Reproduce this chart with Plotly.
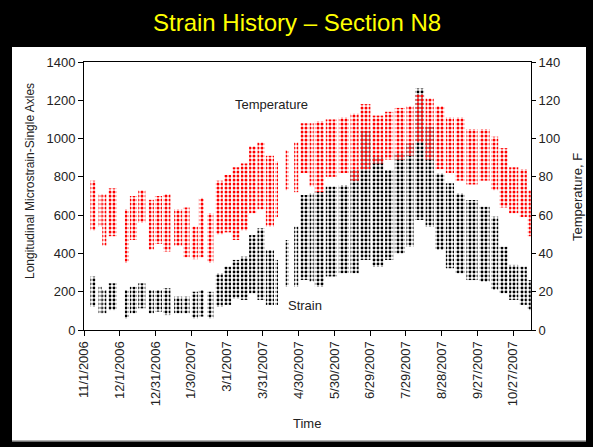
import plotly.graph_objects as go
import pandas as pd

# ---- data (weekly-ish clusters of hourly readings) ----
win_start = ["2006-11-06", "2006-11-13", "2006-11-16", "2006-11-21", "2006-12-05", "2006-12-09",
             "2006-12-16", "2006-12-25", "2006-12-30", "2007-01-06", "2007-01-15", "2007-01-23",
             "2007-01-30", "2007-02-05", "2007-02-12", "2007-02-19", "2007-02-26", "2007-03-05",
             "2007-03-12", "2007-03-19", "2007-03-26", "2007-04-02", "2007-04-10", "2007-04-19",
             "2007-04-26", "2007-05-01", "2007-05-09", "2007-05-13", "2007-05-22", "2007-06-02",
             "2007-06-12", "2007-06-20", "2007-06-30", "2007-07-11", "2007-07-19", "2007-07-29",
             "2007-08-05", "2007-08-14", "2007-08-22", "2007-08-31", "2007-09-08", "2007-09-17",
             "2007-09-28", "2007-10-08", "2007-10-15", "2007-10-23", "2007-11-01", "2007-11-08"]
win_end = ["2006-11-11", "2006-11-16", "2006-11-20", "2006-11-29", "2006-12-09", "2006-12-16",
           "2006-12-23", "2006-12-30", "2007-01-06", "2007-01-13", "2007-01-23", "2007-01-29",
           "2007-02-05", "2007-02-10", "2007-02-18", "2007-02-26", "2007-03-05", "2007-03-12",
           "2007-03-19", "2007-03-26", "2007-04-02", "2007-04-10", "2007-04-13", "2007-04-22",
           "2007-04-30", "2007-05-09", "2007-05-13", "2007-05-22", "2007-06-02", "2007-06-12",
           "2007-06-20", "2007-06-30", "2007-07-11", "2007-07-19", "2007-07-29", "2007-08-05",
           "2007-08-14", "2007-08-22", "2007-08-31", "2007-09-08", "2007-09-17", "2007-09-28",
           "2007-10-08", "2007-10-15", "2007-10-23", "2007-11-01", "2007-11-08", "2007-11-11"]

temp_low = [52, 54, 44, 49, 35, 47, 56, 42, 45, 41, 44, 38, 37, 38, 35, 50, 51, 47, 52, 61,
            63, 54, 59, 73, 72, 82, 75, 72, 80, 82, 78, 84, 87, 89, 89, 91, 98, 89, 84, 82,
            78, 76, 78, 73, 64, 61, 59, 49]
temp_high = [78, 71, 71, 74, 63, 70, 73, 68, 70, 71, 63, 64, 54, 69, 61, 78, 81, 85, 87, 96,
             98, 91, 88, 94, 98, 108, 108, 109, 110, 111, 113, 118, 112, 114, 116, 117, 123, 121, 117, 111,
             111, 105, 105, 101, 95, 85, 84, 73]

strain_low = [122, 87, 87, 104, 61, 87, 113, 87, 96, 78, 87, 87, 61, 70, 61, 122, 131, 165, 157, 192,
              157, 131, 131, 226, 226, 261, 252, 226, 279, 296, 296, 366, 331, 366, 400, 435, 575, 540, 418, 322,
              296, 261, 252, 209, 192, 157, 131, 104]
strain_high = [279, 226, 209, 244, 209, 226, 244, 209, 209, 218, 174, 174, 200, 209, 200, 296, 331, 366, 383, 496,
               531, 418, 366, 470, 540, 705, 714, 722, 749, 757, 836, 1040, 905, 836, 923, 975, 1262, 1062, 818, 766,
               714, 679, 644, 592, 435, 340, 331, 261]

tick_dates = ["2006-11-01", "2006-12-01", "2006-12-31", "2007-01-30", "2007-03-01", "2007-03-31",
              "2007-04-30", "2007-05-30", "2007-06-29", "2007-07-29", "2007-08-28", "2007-09-27",
              "2007-10-27"]
tick_labels = ["11/1/2006", "12/1/2006", "12/31/2006", "1/30/2007", "3/1/2007", "3/31/2007",
               "4/30/2007", "5/30/2007", "6/29/2007", "7/29/2007", "8/28/2007", "9/27/2007",
               "10/27/2007"]

# ---- geometry ----
W, H = 593, 447
L, R, T, B = 84, 62, 62, 117
PW, PH = W - L - R, H - T - B
def px(x): return (x - L) / PW
def py(y): return (H - B - y) / PH

FONT = "Liberation Sans, Arial, sans-serif"

s = pd.to_datetime(win_start)
e = pd.to_datetime(win_end)
mid = s + (e - s) / 2
widths = (e - s).total_seconds() * 1000 * 0.85

def pattern(color, size, solidity):
    return dict(color="rgba(0,0,0,0)", opacity=1, line=dict(width=0),
                pattern=dict(shape=".", fgcolor=color, bgcolor="rgba(0,0,0,0)", fgopacity=1,
                             size=size, solidity=solidity, fillmode="overlay"))

fig = go.Figure()
fig.add_trace(go.Bar(
    x=mid, base=strain_low, y=[h - l for h, l in zip(strain_high, strain_low)],
    width=list(widths), yaxis="y", name="Strain", marker=pattern("#000000", 4, 0.42), opacity=1,
    showlegend=False, hoverinfo="skip"))
fig.add_trace(go.Bar(
    x=mid, base=temp_low, y=[h - l for h, l in zip(temp_high, temp_low)],
    width=list(widths), yaxis="y2", name="Temperature", marker=pattern("#ff0000", 4, 0.45), opacity=1,
    showlegend=False, hoverinfo="skip"))

axis_common = dict(showgrid=False, zeroline=False, showline=True, linecolor="black", linewidth=1,
                   tickcolor="black", tickfont=dict(family=FONT, size=13, color="#222"))

fig.update_layout(
    width=W, height=H,
    margin=dict(l=L, r=R, t=T, b=B),
    paper_bgcolor="black", plot_bgcolor="white",
    barmode="overlay",
    xaxis=dict(type="date", range=["2006-11-01", "2007-11-11"],
               tickvals=tick_dates, ticktext=tick_labels, tickangle=-90,
               ticks="outside", ticklen=5, mirror=True, **axis_common),
    yaxis=dict(range=[0, 1400], dtick=200, ticks="outside", ticklen=5, **axis_common),
    yaxis2=dict(range=[0, 140], dtick=20, overlaying="y", side="right",
                ticks="outside", ticklen=4, **axis_common),
    yaxis3=dict(range=[0, 140], dtick=20, overlaying="y", side="right",
                ticks="inside", ticklen=4, showticklabels=False, showgrid=False,
                zeroline=False, showline=False, tickcolor="black"),
    shapes=[
        dict(type="rect", xref="paper", yref="paper", x0=px(12), x1=px(586), y0=py(441), y1=py(47),
             fillcolor="white", line=dict(width=0), layer="below"),
        dict(type="line", xref="paper", yref="paper", x0=px(12), x1=px(586), y0=py(441), y1=py(441),
             line=dict(color="#999999", width=1.5), layer="below"),
    ],
    annotations=[
        dict(text="Strain History – Section N8", xref="paper", yref="paper", x=px(297), y=py(22),
             showarrow=False, xanchor="center", yanchor="middle",
             font=dict(family=FONT, size=24, color="#ffff00")),
        dict(text="Temperature", xref="paper", yref="paper", x=px(271.5), y=py(104),
             showarrow=False, xanchor="center", yanchor="middle",
             font=dict(family=FONT, size=13, color="#222")),
        dict(text="Strain", xref="paper", yref="paper", x=px(305), y=py(305),
             showarrow=False, xanchor="center", yanchor="middle",
             font=dict(family=FONT, size=13, color="#222")),
        dict(text="Longitudinal Microstrain-Single Axles", xref="paper", yref="paper",
             x=px(30), y=py(181), textangle=-90, showarrow=False,
             xanchor="center", yanchor="middle", font=dict(family=FONT, size=12, color="#222")),
        dict(text="Temperature, F", xref="paper", yref="paper",
             x=px(577), y=py(197), textangle=-90, showarrow=False,
             xanchor="center", yanchor="middle", font=dict(family=FONT, size=13, color="#222")),
        dict(text="Time", xref="paper", yref="paper", x=px(307), y=py(423),
             showarrow=False, xanchor="center", yanchor="middle",
             font=dict(family=FONT, size=13, color="#222")),
    ],
)

fig.write_html("out.html", config={"displayModeBar": False},
               post_script="document.body.style.margin='0px';")
